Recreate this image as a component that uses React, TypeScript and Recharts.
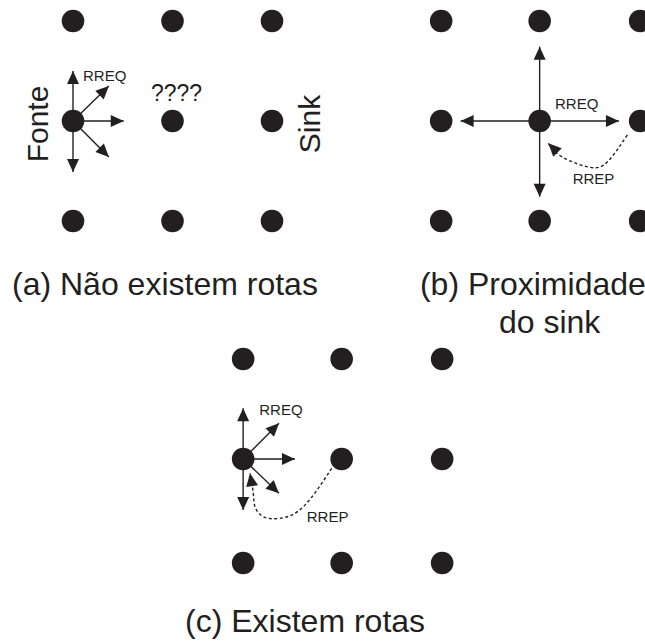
import { ComposedChart, XAxis, YAxis, Scatter, Line } from "recharts"

type Ponto = { x: number; y: number }
type Rotulo = { x: number; y: number; texto: string; tipo: string }

// posições na grade (1 unidade = distância entre nós)
const nosA: Ponto[] = [
  { x: 0, y: 0 }, { x: 1, y: 0 }, { x: 2, y: 0 },
  { x: 0, y: 1 }, { x: 1, y: 1 }, { x: 2, y: 1 },
  { x: 0, y: 2 }, { x: 1, y: 2 }, { x: 2, y: 2 },
]
const nosB: Ponto[] = [
  { x: 3.7, y: 0 }, { x: 4.69, y: 0 }, { x: 5.7, y: 0 },
  { x: 3.7, y: 1 }, { x: 4.69, y: 1 }, { x: 5.7, y: 1 },
  { x: 3.7, y: 2 }, { x: 4.69, y: 2 }, { x: 5.7, y: 2 },
]
const nosC: Ponto[] = [
  { x: 1.71, y: 3.38 }, { x: 2.7, y: 3.38 }, { x: 3.71, y: 3.38 },
  { x: 1.71, y: 4.38 }, { x: 2.7, y: 4.38 }, { x: 3.71, y: 4.38 },
  { x: 1.71, y: 5.42 }, { x: 2.7, y: 5.42 }, { x: 3.71, y: 5.42 },
]

const fonteA: Ponto = { x: 0, y: 1 }
const fonteB: Ponto = { x: 4.69, y: 1 }
const fonteC: Ponto = { x: 1.71, y: 4.38 }

// pontas das setas RREQ
const setasA: Ponto[] = [
  { x: 0, y: 0.5 }, { x: 0, y: 1.51 }, { x: 0.51, y: 1 },
  { x: 0.36, y: 0.65 }, { x: 0.36, y: 1.36 },
]
const setasB: Ponto[] = [
  { x: 4.69, y: 0.257 }, { x: 4.69, y: 1.757 },
  { x: 3.896, y: 1 }, { x: 5.487, y: 1 },
]
const setasC: Ponto[] = [
  { x: 1.71, y: 3.873 }, { x: 1.71, y: 4.89 }, { x: 2.231, y: 4.38 },
  { x: 2.07, y: 4.023 }, { x: 2.07, y: 4.723 },
]

// caminhos RREP (tracejados)
const respostaB: Ponto[] = [
  { x: 5.571, y: 1.14 }, { x: 5.38, y: 1.4 }, { x: 5.196, y: 1.463 },
  { x: 4.912, y: 1.357 }, { x: 4.777, y: 1.223 },
]
const respostaC: Ponto[] = [
  { x: 2.6, y: 4.473 }, { x: 2.315, y: 4.857 }, { x: 2.08, y: 4.973 },
  { x: 1.913, y: 4.957 }, { x: 1.829, y: 4.857 }, { x: 1.812, y: 4.723 },
  { x: 1.779, y: 4.523 },
]

const rotulos: Rotulo[] = [
  { x: 0.1005, y: 0.6, texto: "RREQ", tipo: "rota" },
  { x: 1.04, y: 0.8, texto: "????", tipo: "duvida" },
  { x: -0.251, y: 1.03, texto: "Fonte", tipo: "papel" },
  { x: 2.482, y: 1.03, texto: "Sink", tipo: "papel" },
  { x: 4.844, y: 0.883, texto: "RREQ", tipo: "rota" },
  { x: 5.022, y: 1.63, texto: "RREP", tipo: "rota" },
  { x: 1.872, y: 3.94, texto: "RREQ", tipo: "rota" },
  { x: 2.349, y: 5.007, texto: "RREP", tipo: "rota" },
  { x: -0.613, y: 2.74, texto: "(a) Não existem rotas", tipo: "legenda" },
  { x: 3.487, y: 2.74, texto: "(b) Proximidade", tipo: "legenda" },
  { x: 4.281, y: 3.12, texto: "do sink", tipo: "legenda" },
  { x: 1.126, y: 6.107, texto: "(c) Existem rotas", tipo: "legenda" },
]

const COR = "#231f20"
const FONTE = "'Liberation Sans', Arial, Helvetica, sans-serif"
const LARGURA = 645
const ALTURA = 644
const PX_X = 99.5
const PX_Y = 100
const ORIGEM_X = 73
const ORIGEM_Y = 21

const estilos: Record<string, { size: number; anchor: "start" | "middle"; rot?: boolean }> = {
  rota: { size: 15, anchor: "start" },
  duvida: { size: 23, anchor: "middle" },
  papel: { size: 30, anchor: "middle", rot: true },
  legenda: { size: 32, anchor: "start" },
}

function comAngulo(pts: Ponto[]) {
  const n = pts.length
  const a = pts[n - 2]
  const b = pts[n - 1]
  const ang = (Math.atan2((b.y - a.y) * PX_Y, (b.x - a.x) * PX_X) * 180) / Math.PI
  return pts.map((p, i) => (i === n - 1 ? { ...p, ang } : { ...p }))
}

function seta(de: Ponto, para: Ponto) {
  return comAngulo([de, para])
}

function PontaSeta(props: any) {
  const { cx, cy, payload, index } = props
  if (payload == null || payload.ang === undefined || cx == null) {
    return <g key={`v-${index}`} />
  }
  return (
    <polygon
      key={`p-${index}`}
      points="0,0 -13,-6 -13,6"
      fill={COR}
      transform={`translate(${cx} ${cy}) rotate(${payload.ang})`}
    />
  )
}

function No(props: any) {
  const { cx, cy } = props
  return <circle cx={cx} cy={cy} r={11.3} fill={COR} />
}

function Texto(props: any) {
  const { cx, cy, payload } = props
  const e = estilos[payload.tipo]
  return (
    <text
      x={cx}
      y={cy}
      fontSize={e.size}
      fontFamily={FONTE}
      textAnchor={e.anchor}
      fill={COR}
      transform={e.rot ? `rotate(-90 ${cx} ${cy})` : undefined}
    >
      {payload.texto}
    </text>
  )
}

export default function App() {
  const dominioX = [-ORIGEM_X / PX_X, (LARGURA - ORIGEM_X) / PX_X]
  const dominioY = [-ORIGEM_Y / PX_Y, (ALTURA - ORIGEM_Y) / PX_Y]

  const setas = [
    ...setasA.map((p) => seta(fonteA, p)),
    ...setasB.map((p) => seta(fonteB, p)),
    ...setasC.map((p) => seta(fonteC, p)),
  ]
  const respostas = [comAngulo(respostaB), comAngulo(respostaC)]

  return (
    <div style={{ position: "absolute", left: 0, top: 0, background: "#fff" }}>
      <ComposedChart
        width={LARGURA}
        height={ALTURA}
        margin={{ top: 0, right: 0, bottom: 0, left: 0 }}
      >
        <XAxis type="number" dataKey="x" domain={dominioX} allowDataOverflow hide />
        <YAxis type="number" dataKey="y" domain={dominioY} allowDataOverflow reversed hide />
        {setas.map((d, i) => (
          <Line
            key={`s${i}`}
            data={d}
            dataKey="y"
            type="linear"
            stroke={COR}
            strokeWidth={1.4}
            dot={PontaSeta}
            activeDot={false}
            legendType="none"
            isAnimationActive={false}
          />
        ))}
        {respostas.map((d, i) => (
          <Line
            key={`r${i}`}
            data={d}
            dataKey="y"
            type="natural"
            stroke={COR}
            strokeWidth={1.4}
            strokeDasharray="3 2.5"
            dot={PontaSeta}
            activeDot={false}
            legendType="none"
            isAnimationActive={false}
          />
        ))}
        <Scatter data={[...nosA, ...nosB, ...nosC]} shape={No} isAnimationActive={false} />
        <Scatter data={rotulos} shape={Texto} isAnimationActive={false} />
      </ComposedChart>
    </div>
  )
}
